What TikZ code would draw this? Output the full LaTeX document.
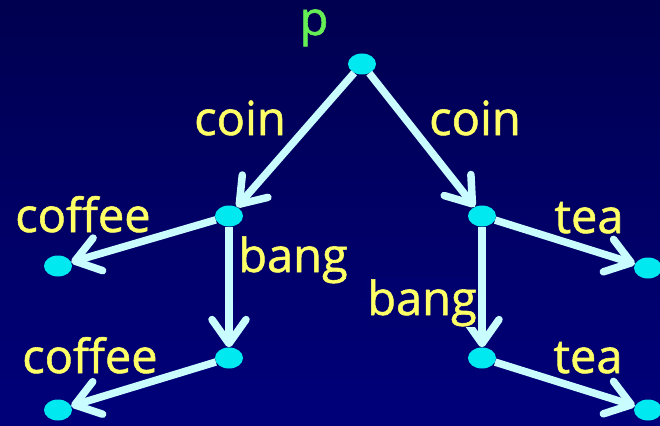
\documentclass[tikz,border=0pt]{standalone}
\usepackage{fontspec}
\setmainfont{Open Sans}
\newfontfamily\lblfont{Open Sans}[FakeBold=1.2]
\usetikzlibrary{arrows.meta,shapes.geometric}
\definecolor{bgtop}{HTML}{000050}
\definecolor{bgbot}{HTML}{00007A}
\definecolor{bgmid}{HTML}{00006E}
\definecolor{nodecyan}{HTML}{00E8F0}
\definecolor{arrowcyan}{HTML}{C8FCFF}
\definecolor{lblyellow}{HTML}{FFFF66}
\definecolor{lblgreen}{HTML}{66EE55}
\begin{document}
\begin{tikzpicture}[x=1pt,y=-1pt,
    state/.style={ellipse,fill=nodecyan,minimum width=28pt,minimum height=21pt,inner sep=0pt},
    trans/.style={draw=arrowcyan,line width=7.5pt,-{Straight Barb[length=24pt,width=34pt,round]}},
    lbl/.style={text=lblyellow,font=\lblfont\fontsize{47}{50}\selectfont,anchor=base,inner sep=1pt}]
    % Background
    \shade[top color=bgtop,bottom color=bgbot] (0,0) rectangle (660,425);
    \useasboundingbox (0,0) rectangle (660,425);

    % States
    \node[state] (p) at (362,64) {};
    \node[state] (l1) at (229,216) {};
    \node[state] (r1) at (482,216) {};
    \node[state] (lc1) at (58,266) {};
    \node[state] (rt1) at (648,268) {};
    \node[state] (l2) at (229,358) {};
    \node[state] (r2) at (482,358) {};
    \node[state] (lc2) at (58,410) {};
    \node[state] (rt2) at (648,410) {};

    % Transitions
    \draw[trans] (p) -- (l1);
    \draw[trans] (p) -- (r1);
    \draw[trans] (l1) -- (lc1);
    \draw[trans] (l1) -- (l2);
    \draw[trans] (l2) -- (lc2);
    \draw[trans] (r1) -- (rt1);
    \draw[trans] (r1) -- (r2);
    \draw[trans] (r2) -- (rt2);

    % Labels
    \node[lbl,text=lblgreen] (plbl) at (314,35) {p};
    \node[lbl] (coinl) at (240,135) {coin};
    \node[lbl] (coinr) at (475,135) {coin};
    \node[lbl] (coffeea) at (83,232) {coffee};
    \node[lbl] (bangl) at (293,272) {bang};
    \node[lbl] (teaa) at (589,233) {tea};
    \node[lbl,fill=bgmid] (bangr) at (422,315) {bang};
    \node[lbl] (coffeeb) at (90,373) {coffee};
    \node[lbl] (teab) at (588,373) {tea};
\end{tikzpicture}
\end{document}
